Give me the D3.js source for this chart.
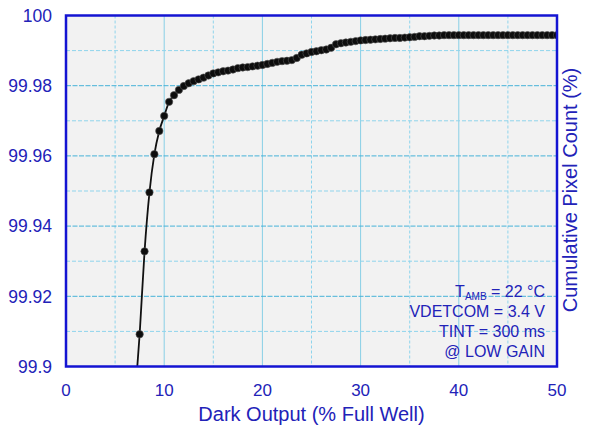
<!DOCTYPE html>
<html>
<head>
<meta charset="utf-8">
<script src="https://cdn.jsdelivr.net/npm/d3@7"></script>
<style>
  body { margin: 0; background: #fff; }
  text { font-family: "Liberation Sans", Arial, sans-serif; }
</style>
</head>
<body>
<svg id="chart" width="597" height="430"></svg>
<script>
// dark output (% full well) of each measured point
var darkOutput = [7.5, 8, 8.5, 9, 9.5, 10, 10.5, 11, 11.5, 12, 12.5, 13, 13.5, 14, 14.5,
  15, 15.5, 16, 16.5, 17, 17.5, 18, 18.5, 19, 19.5, 20, 20.5, 21, 21.5, 22, 22.5,
  23, 23.5, 24, 24.5, 25, 25.5, 26, 26.5, 27, 27.5, 28, 28.5, 29, 29.5, 30, 30.5,
  31, 31.5, 32, 32.5, 33, 33.5, 34, 34.5, 35, 35.5, 36, 36.5, 37, 37.5, 38, 38.5,
  39, 39.5, 40, 40.5, 41, 41.5, 42, 42.5, 43, 43.5, 44, 44.5, 45, 45.5, 46, 46.5,
  47, 47.5, 48, 48.5, 49, 49.5, 50];

// cumulative pixel count (%)
var cumCount = [99.9092, 99.9328, 99.9496, 99.9605, 99.9671, 99.9714, 99.9754, 99.9773,
  99.9788, 99.9799, 99.9807, 99.9813, 99.9818, 99.9823, 99.9829, 99.9835, 99.9838,
  99.9841, 99.9843, 99.9846, 99.9850, 99.9852, 99.9853, 99.9855, 99.9857, 99.9859,
  99.9862, 99.9865, 99.9868, 99.9870, 99.9871, 99.9873, 99.9879, 99.9888, 99.9892,
  99.9896, 99.9898, 99.9901, 99.9903, 99.9908, 99.9918, 99.9921, 99.9923, 99.9925,
  99.9927, 99.9929, 99.9930, 99.9931, 99.9932, 99.9933, 99.9934, 99.9935, 99.9936,
  99.9936, 99.9937, 99.9938, 99.9939, 99.9941, 99.9941, 99.9942, 99.9943, 99.9943,
  99.9944, 99.9944, 99.9944, 99.9944, 99.9944, 99.9944, 99.9944, 99.9944, 99.9944,
  99.9944, 99.9944, 99.9944, 99.9944, 99.9944, 99.9944, 99.9944, 99.9944, 99.9944,
  99.9944, 99.9944, 99.9944, 99.9944, 99.9944, 99.9944];

// the line runs on below the axis before the first dot
var tailOutput = [7.0];
var tailCount = [99.890];

var xTicks = [0, 10, 20, 30, 40, 50];
var xMinor = [5, 15, 25, 35, 45];
var yTicks = [99.9, 99.92, 99.94, 99.96, 99.98, 100];
var yMinor = [99.91, 99.93, 99.95, 99.97, 99.99];

var notes = ["VDETCOM = 3.4 V", "TINT = 300 ms", "@ LOW GAIN"];

var blue = "#2222b8",
    frame = "#1414d2";

var svg = d3.select("#chart");
var pLeft = 66, pRight = 557, pTop = 15.5, pBottom = 366.5;

var x = d3.scaleLinear().domain([0, 50]).range([pLeft, pRight]);
var y = d3.scaleLinear().domain([99.9, 100]).range([pBottom, pTop]);

svg.append("defs").append("clipPath")
    .attr("id", "plotclip")
  .append("rect")
    .attr("x", pLeft).attr("y", pTop)
    .attr("width", pRight - pLeft).attr("height", pBottom - pTop);

svg.append("rect")
    .attr("x", pLeft).attr("y", pTop)
    .attr("width", pRight - pLeft).attr("height", pBottom - pTop)
    .attr("fill", "#f2f2f2");

// grid
var grid = svg.append("g");
grid.selectAll(".vminor").data(xMinor).enter().append("line")
    .attr("x1", x).attr("x2", x).attr("y1", pTop).attr("y2", pBottom)
    .attr("stroke", "#8fd4ec").attr("stroke-width", 1)
    .attr("stroke-dasharray", "3,2");
grid.selectAll(".vmajor").data(xTicks.slice(1, -1)).enter().append("line")
    .attr("x1", x).attr("x2", x).attr("y1", pTop).attr("y2", pBottom)
    .attr("stroke", "#88cfe6").attr("stroke-width", 1);
grid.selectAll(".hminor").data(yMinor).enter().append("line")
    .attr("y1", y).attr("y2", y).attr("x1", pLeft).attr("x2", pRight)
    .attr("stroke", "#8fd4ec").attr("stroke-width", 1)
    .attr("stroke-dasharray", "4,2");
grid.selectAll(".hmajor").data(yTicks.slice(1, -1)).enter().append("line")
    .attr("y1", y).attr("y2", y).attr("x1", pLeft).attr("x2", pRight)
    .attr("stroke", "#45b2d8").attr("stroke-width", 1)
    .attr("stroke-dasharray", "5,1.5");

// notes
var noteG = svg.append("g")
    .attr("fill", blue)
    .attr("font-size", 16)
    .attr("text-anchor", "end");

var t = noteG.append("text").attr("x", 545).attr("y", 296.5);
t.append("tspan").text("T");
t.append("tspan").attr("font-size", 10).attr("dy", 3).text("AMB");
t.append("tspan").attr("dy", -3).text(" = 22 \u00b0C");

noteG.selectAll(".note").data(notes).enter().append("text")
    .attr("x", 545)
    .attr("y", function(d, i) { return 317 + i * 20; })
    .text(function(d) { return d; });

// data
var pts = darkOutput.map(function(d, i) { return [d, cumCount[i]]; });
var linePts = tailOutput.map(function(d, i) { return [d, tailCount[i]]; }).concat(pts);

var line = d3.line()
    .x(function(d) { return x(d[0]); })
    .y(function(d) { return y(d[1]); })
    .curve(d3.curveMonotoneX);

var plot = svg.append("g").attr("clip-path", "url(#plotclip)");
plot.append("path")
    .datum(linePts)
    .attr("d", line)
    .attr("fill", "none")
    .attr("stroke", "#111")
    .attr("stroke-width", 1.8);

plot.selectAll(".dot").data(pts).enter().append("circle")
    .attr("cx", function(d) { return x(d[0]); })
    .attr("cy", function(d) { return y(d[1]); })
    .attr("r", 3.7)
    .attr("fill", "#0d0d0d")
    .attr("stroke", "#555")
    .attr("stroke-width", 0.6);

// frame
svg.append("rect")
    .attr("x", pLeft).attr("y", pTop)
    .attr("width", pRight - pLeft).attr("height", pBottom - pTop)
    .attr("fill", "none")
    .attr("stroke", frame)
    .attr("stroke-width", 2.5);

// tick labels
svg.append("g").selectAll("text").data(xTicks).enter().append("text")
    .attr("x", x).attr("y", 396)
    .attr("text-anchor", "middle")
    .attr("fill", blue).attr("font-size", 17)
    .text(function(d) { return d; });

svg.append("g").selectAll("text").data(yTicks).enter().append("text")
    .attr("x", 52).attr("y", y).attr("dy", "0.36em")
    .attr("text-anchor", "end")
    .attr("fill", blue).attr("font-size", 17.5)
    .text(function(d) { return d3.format("~")(d); });

// axis titles
svg.append("text")
    .attr("x", (pLeft + pRight) / 2).attr("y", 421)
    .attr("text-anchor", "middle")
    .attr("fill", blue).attr("font-size", 20)
    .text("Dark Output (% Full Well)");

svg.append("text")
    .attr("transform", "translate(577,190) rotate(-90)")
    .attr("text-anchor", "middle")
    .attr("fill", blue).attr("font-size", 20)
    .text("Cumulative Pixel Count (%)");
</script>
</body>
</html>
